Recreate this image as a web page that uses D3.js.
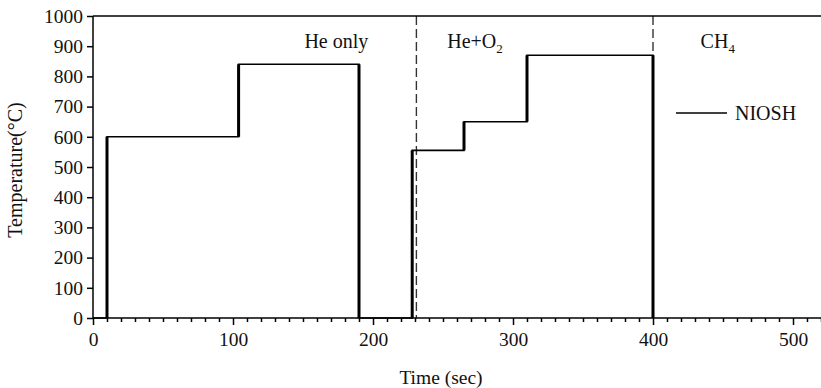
<!DOCTYPE html>
<html>
<head>
<meta charset="utf-8">
<script src="https://cdn.jsdelivr.net/npm/d3@7"></script>
<style>
  body { margin: 0; background: #fff; }
  svg text { font-family: "Liberation Serif", "Times New Roman", serif; fill: #111; }
</style>
</head>
<body>
<div id="chart"></div>
<script>
// NIOSH temperature programme: step points (time in sec, temperature in °C)
const stepTimes = [0, 10, 10, 104, 104, 190, 190, 228, 228, 265, 265, 310, 310, 400, 400];
const stepTemps = [0, 0, 600, 600, 840, 840, 0, 0, 555, 555, 650, 650, 870, 870, 0];

// phase boundaries (dashed) and phase labels
const phaseBounds = [231, 400];
const phaseLabels = ['He only', 'He+O', 'CH'];
const phaseSubs = ['', '2', '4'];
const phaseLabelX = [151, 253, 434];

const xTicks = [0, 100, 200, 300, 400, 500];
const yTicks = [0, 100, 200, 300, 400, 500, 600, 700, 800, 900, 1000];

const width = 821, height = 388;
const margin = { top: 16, right: 0, bottom: 70, left: 93 };

const svg = d3.select('#chart').append('svg')
  .attr('width', width)
  .attr('height', height);

const x = d3.scaleLinear().domain([0, 520]).range([margin.left, width - margin.right]);
const y = d3.scaleLinear().domain([0, 1000]).range([height - margin.bottom, margin.top]);

const points = stepTimes.map((t, i) => [t, stepTemps[i]]);

// dashed phase dividers
svg.append('g').selectAll('line')
  .data(phaseBounds)
  .enter().append('line')
  .attr('x1', d => x(d)).attr('x2', d => x(d))
  .attr('y1', y(1000)).attr('y2', y(0))
  .attr('stroke', '#333')
  .attr('stroke-width', 1.4)
  .attr('stroke-dasharray', '9,4');

// the step line: thin horizontals, heavier verticals
const line = d3.line().x(d => x(d[0])).y(d => y(d[1]));
svg.append('path')
  .datum(points)
  .attr('d', line)
  .attr('fill', 'none')
  .attr('stroke', '#000')
  .attr('stroke-width', 1.6);

const verticals = d3.pairs(points).filter(p => p[0][0] === p[1][0]);
svg.append('g').selectAll('line')
  .data(verticals)
  .enter().append('line')
  .attr('x1', d => x(d[0][0])).attr('x2', d => x(d[1][0]))
  .attr('y1', d => y(d[0][1])).attr('y2', d => y(d[1][1]))
  .attr('stroke', '#000')
  .attr('stroke-width', 3);

// axes
const xAxis = svg.append('g')
  .attr('transform', `translate(0,${y(0)})`)
  .call(d3.axisBottom(x).tickValues(xTicks).tickSize(7).tickPadding(4).tickFormat(d3.format('d')));

svg.append('g')
  .attr('transform', `translate(0,${y(0)})`)
  .call(d3.axisBottom(x).tickValues(d3.range(10, 521, 10).filter(v => v % 100 !== 0)).tickSize(4).tickFormat(''))
  .call(g => g.select('.domain').remove());

const yAxis = svg.append('g')
  .attr('transform', `translate(${x(0)},0)`)
  .call(d3.axisLeft(y).tickValues(yTicks).tickSize(6).tickPadding(4).tickFormat(d3.format('d')));

svg.selectAll('.domain, .tick line').attr('stroke', '#000').attr('stroke-width', 1.5);
xAxis.select('.domain').attr('d', `M${x(0)},0H${width}`);
yAxis.select('.domain').attr('d', `M0,${y(0)}V${y(1000)}`);
svg.selectAll('.tick text').style('font-size', '19.5px').attr('fill', '#111');
xAxis.selectAll('.tick text').attr('dy', '0.85em');

// top border
svg.append('line')
  .attr('x1', x(0)).attr('x2', width)
  .attr('y1', y(1000)).attr('y2', y(1000))
  .attr('stroke', '#000').attr('stroke-width', 1.5);

// phase labels
const labels = svg.append('g').selectAll('text')
  .data(phaseLabels)
  .enter().append('text')
  .attr('x', (d, i) => x(phaseLabelX[i]))
  .attr('y', 48)
  .style('font-size', '20px');
labels.append('tspan').text(d => d);
labels.append('tspan')
  .text((d, i) => phaseSubs[i])
  .attr('dy', 5)
  .style('font-size', '13px');

// legend
svg.append('line')
  .attr('x1', 676).attr('x2', 727)
  .attr('y1', 113).attr('y2', 113)
  .attr('stroke', '#000').attr('stroke-width', 1.6);
svg.append('text')
  .attr('x', 735).attr('y', 120)
  .style('font-size', '20px')
  .text('NIOSH');

// axis titles
svg.append('text')
  .attr('x', 441).attr('y', 384)
  .attr('text-anchor', 'middle')
  .style('font-size', '19.5px')
  .text('Time (sec)');

svg.append('text')
  .attr('transform', `translate(22,170) rotate(-90)`)
  .attr('text-anchor', 'middle')
  .style('font-size', '20px')
  .text('Temperature(°C)');
</script>
</body>
</html>
